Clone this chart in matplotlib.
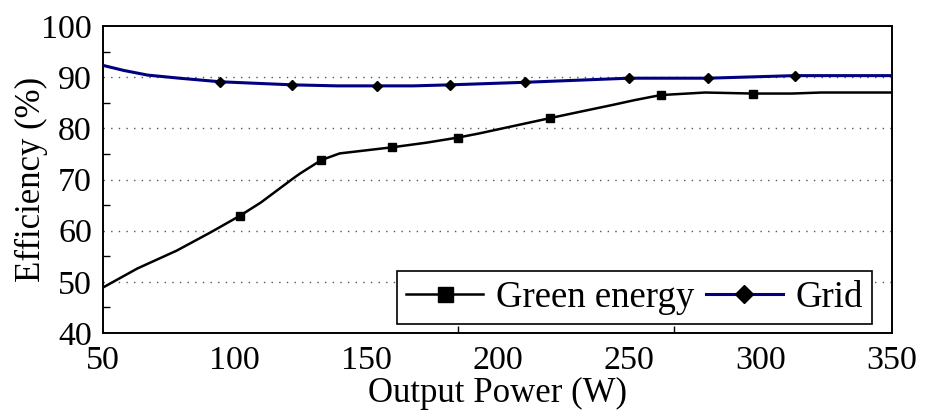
import matplotlib
matplotlib.use("Agg")
import matplotlib.pyplot as plt
from matplotlib.ticker import FixedLocator

plt.rcParams['font.family'] = ['Liberation Serif', 'DejaVu Serif']
plt.rcParams['mathtext.fontset'] = 'stix'

# Green-energy supply efficiency vs output power
green_power = [50, 63, 78, 91, 102, 110, 122, 125, 133, 140, 160, 173, 185,
               193, 220, 231, 244, 252, 262, 279, 297, 312, 323, 350]
green_eff = [48.9, 52.6, 56.1, 59.7, 62.9, 65.5, 70.1, 71.2, 73.8, 75.1, 76.3,
             77.2, 78.2, 79.0, 82.0, 83.2, 84.6, 85.5, 86.5, 87.0, 86.8, 86.8,
             87.0, 87.0]
green_marks = [4, 8, 10, 12, 14, 18, 20]

# Grid supply efficiency vs output power
grid_power = [50, 54, 58, 67, 79, 94.5, 122, 139, 154, 168, 182, 210.5,
              250, 280, 313, 350]
grid_eff = [92.3, 91.8, 91.3, 90.4, 89.8, 89.1, 88.5, 88.3, 88.3, 88.3, 88.5,
            89.0, 89.8, 89.8, 90.3, 90.3]
grid_marks = [5, 6, 8, 10, 11, 12, 13, 14]

x_ticks = [50, 100, 150, 200, 250, 300, 350]
x_tick_marks = [100, 150, 185, 200, 267]
y_ticks = [40, 50, 60, 70, 80, 90, 100]
y_minor = [45, 55, 65, 75, 85, 95]
grid_levels = [50, 60, 70, 80, 90]

fig = plt.figure(figsize=(9.25, 4.12), dpi=100)
ax = fig.add_axes([0.1114, 0.1917, 0.8529, 0.7452])

for lvl in grid_levels:
    ax.axhline(lvl, color='#555555', lw=1.0, linestyle=(0, (1, 4.5)), zorder=1)

ax.plot(green_power, green_eff, color='black', lw=1.8, marker='s', ms=6,
        markevery=green_marks, label='Green energy', zorder=3)
ax.plot(grid_power, grid_eff, color='#000080', lw=2.2, marker='D', ms=5,
        markerfacecolor='black', markeredgecolor='black',
        markevery=grid_marks, label='Grid', zorder=3)

ax.set_xlim(50, 350)
ax.set_ylim(40, 100)

ax.set_xticks(x_ticks)
ax.set_yticks(y_ticks)
ax.xaxis.set_minor_locator(FixedLocator(x_tick_marks))
ax.yaxis.set_minor_locator(FixedLocator(y_minor))
ax.tick_params(axis='both', which='major', length=0, labelsize=24.5)
ax.tick_params(axis='x', which='major', pad=9)
ax.tick_params(axis='y', which='major', pad=8)
ax.tick_params(axis='both', which='minor', direction='in', length=5, width=1,
               color='black')

for sp in ax.spines.values():
    sp.set_linewidth(1.4)
    sp.set_color('black')

ax.set_xlabel('Output Power (W)', fontsize=25, labelpad=1)
ax.set_ylabel('Efficiency (%)', fontsize=25, labelpad=-5)

leg = ax.legend(loc='lower right', bbox_to_anchor=(0.975, 0.03), ncol=2,
                fontsize=26.5, frameon=True, fancybox=False, shadow=False,
                handlelength=2.1, handletextpad=0.35, columnspacing=0.3,
                borderpad=0.25, borderaxespad=0, markerscale=1.8)
leg.get_frame().set_edgecolor('black')
leg.get_frame().set_linewidth(1.2)
leg.get_frame().set_alpha(1)

fig.savefig('out.png', dpi=100)
